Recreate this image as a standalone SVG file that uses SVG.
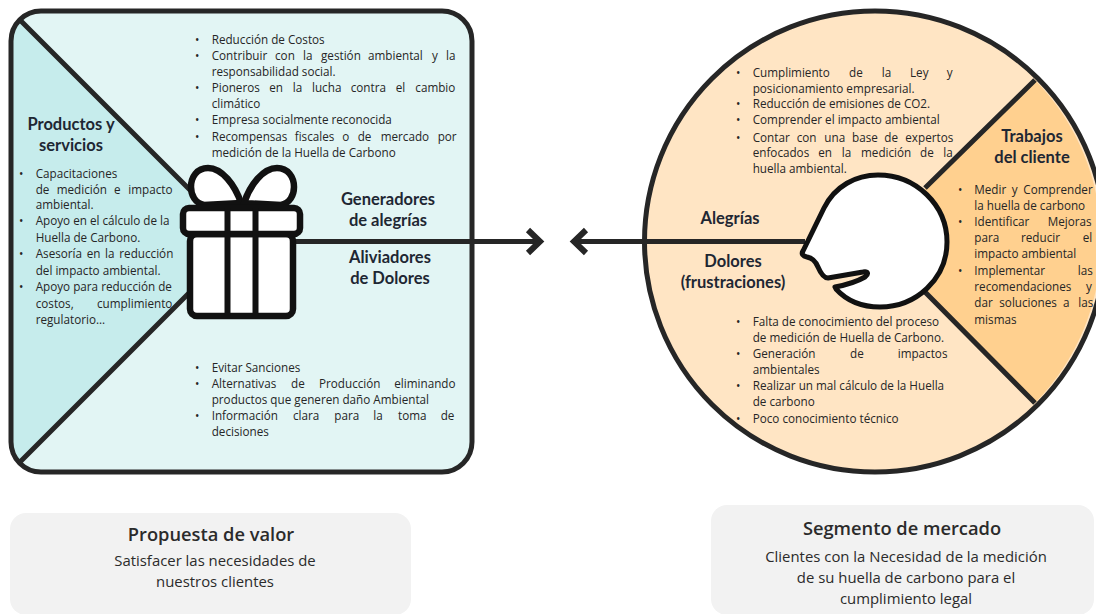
<svg xmlns="http://www.w3.org/2000/svg" width="1096" height="614" viewBox="0 0 1096 614">
<style>
text{font-family:"Open Sans","Noto Sans","Liberation Sans",sans-serif}
.t{font-size:11.7px;fill:#262626}
.h{font-family:Lato,"Open Sans",sans-serif;font-weight:700;font-size:16.500px;fill:#1e2733;text-anchor:middle}
.bt{font-size:18.300px;font-weight:600;fill:#2b2b2b;text-anchor:middle}
.bd{font-size:14.900px;fill:#2b2b2b;text-anchor:middle}
.ln{fill:none;stroke:#262626;stroke-width:5}
.hd{fill:none;stroke:#262626;stroke-width:6}
.gift{fill:#fff;stroke:#111;stroke-width:6.500;stroke-linejoin:round}
.box{fill:#f2f2f2}
</style>
<rect width="1096" height="614" fill="#fff"/>
<g id="value-panel">
<rect x="11" y="11" width="461" height="461" rx="30" fill="#e2f5f4"/>
<path d="M20 20L190 190V292L20 462Q11 455 11 442V40Q11 28 20 20Z" fill="#c6ecec"/>
<rect x="11" y="11" width="461" height="461" rx="30" class="ln"/>
<path d="M20 20L190 190M20 462L190 292" class="ln"/>
</g>
<g id="market-circle">
<circle cx="875" cy="241.5" r="230.5" fill="#ffe5c4"/>
<path d="M925 188L1035 80A230.500 230.500 0 0 1 1035 403L925 292Z" fill="#ffd08f"/>
<circle cx="875" cy="241.500" r="230.500" class="ln"/>
<path d="M925 188L1035 80M925 292L1035 403" class="ln"/>
</g>
<g id="connectors">
<path d="M295 241.500H540M805 241.500H576" class="ln"/>
<path d="M528 230L540 241.500L528 253M586 230L574 241.500L586 253" class="hd"/>
</g>
<g id="gift">
<path d="M241 203C235 185 222 168 208 168C197 168 191 177 191 187C191 195 195 203 204 205Z" class="gift"/>
<path d="M244 203C250 185 263 168 277 168C288 168 294 177 294 187C294 195 290 203 281 205Z" class="gift"/>
<rect x="190" y="234" width="103" height="82" rx="7" class="gift"/>
<rect x="183" y="208" width="117" height="26" rx="6" class="gift"/>
<path d="M227.500 208V316M255.500 208V316" fill="none" stroke="#111" stroke-width="6"/>
</g>
<g id="head">
<path d="M803 251L824 208C835 186 856 175 878 175C916 175 947 205 947 242C947 279 916 307 880 307C860 307 846 300 836 289L835 287C846 285 858 281 865 277C869 274 868 271 863 272L828 278C824 278 821 274 818 267C815 260 812 258 807 257C803 256 801 254 803 251Z" fill="#fff" stroke="#111" stroke-width="5" stroke-linejoin="round"/>
</g>
<g id="productos-servicios">
<text class="h" x="71" y="130">Productos y</text><text class="h" x="71" y="151">servicios</text>
<g class="t">
<text x="19" y="178">•</text><text x="35.700" y="178">Capacitaciones</text>
<text y="194"><tspan x="35.700">de</tspan><tspan x="56.700">medición</tspan><tspan x="114">e</tspan><tspan x="128.300">impacto</tspan></text>
<text x="35.700" y="209">ambiental.</text>
<text x="19" y="225">•</text><text x="35.700" y="225">Apoyo en el cálculo de la</text>
<text x="35.700" y="242">Huella de Carbono.</text>
<text x="19" y="258">•</text><text y="258"><tspan x="35.700">Asesoría</tspan><tspan x="86.700">en</tspan><tspan x="105">la</tspan><tspan x="119.300">reducción</tspan></text>
<text x="35.700" y="275">del impacto ambiental.</text>
<text x="19" y="291">•</text><text x="35.700" y="291">Apoyo para reducción de</text>
<text y="308"><tspan x="35.700">costos,</tspan><tspan x="97">cumplimiento</tspan></text>
<text x="35.700" y="324">regulatorio...</text>
</g>
</g>
<g id="generadores">
<text class="h" x="388" y="205">Generadores</text><text class="h" x="388" y="226">de alegrías</text>
<g class="t">
<text x="195" y="44">•</text><text x="211.700" y="44">Reducción de Costos</text>
<text x="195" y="60">•</text><text y="60"><tspan x="211.700">Contribuir</tspan><tspan x="275">con</tspan><tspan x="303">la</tspan><tspan x="321">gestión</tspan><tspan x="368">ambiental</tspan><tspan x="432">y</tspan><tspan x="446">la</tspan></text>
<text x="211.700" y="76">responsabilidad social.</text>
<text x="195" y="92">•</text><text y="92"><tspan x="211.700">Pioneros</tspan><tspan x="269.300">en</tspan><tspan x="292.700">la</tspan><tspan x="312">lucha</tspan><tspan x="350.700">contra</tspan><tspan x="395.700">el</tspan><tspan x="415.300">cambio</tspan></text>
<text x="211.700" y="108">climático</text>
<text x="195" y="124">•</text><text x="211.700" y="124">Empresa socialmente reconocida</text>
<text x="195" y="141">•</text><text y="141"><tspan x="211.700">Recompensas</tspan><tspan x="294.700">fiscales</tspan><tspan x="342.300">o</tspan><tspan x="357.700">de</tspan><tspan x="380.700">mercado</tspan><tspan x="437.700">por</tspan></text>
<text x="211.700" y="157">medición de la Huella de Carbono</text>
</g>
</g>
<g id="aliviadores">
<text class="h" x="390" y="263">Aliviadores</text><text class="h" x="390" y="284">de Dolores</text>
<g class="t">
<text x="195" y="372">•</text><text x="211.700" y="372">Evitar Sanciones</text>
<text x="195" y="388">•</text><text y="388"><tspan x="211.700">Alternativas</tspan><tspan x="291">de</tspan><tspan x="319">Producción</tspan><tspan x="394.300">eliminando</tspan></text>
<text x="211.700" y="404">productos que generen daño Ambiental</text>
<text x="195" y="420">•</text><text y="420"><tspan x="211.700">Información</tspan><tspan x="293">clara</tspan><tspan x="334.300">para</tspan><tspan x="373.300">la</tspan><tspan x="398">toma</tspan><tspan x="440.700">de</tspan></text>
<text x="211.700" y="436">decisiones</text>
</g>
</g>
<g id="alegrias">
<text class="h" x="730" y="224">Alegrías</text>
<g class="t">
<text x="736" y="77">•</text><text y="77"><tspan x="752.700">Cumplimiento</tspan><tspan x="849">de</tspan><tspan x="881.700">la</tspan><tspan x="910">Ley</tspan><tspan x="946.700">y</tspan></text>
<text x="752.700" y="93">posicionamiento empresarial.</text>
<text x="736" y="108">•</text><text x="752.700" y="108">Reducción de emisiones de CO2.</text>
<text x="736" y="124">•</text><text x="752.700" y="124">Comprender el impacto ambiental</text>
<text x="736" y="142">•</text><text y="142"><tspan x="752.700">Contar</tspan><tspan x="796.700">con</tspan><tspan x="824.300">una</tspan><tspan x="852">base</tspan><tspan x="884.300">de</tspan><tspan x="905.300">expertos</tspan></text>
<text y="157"><tspan x="752.700">enfocados</tspan><tspan x="818.300">en</tspan><tspan x="841.700">la</tspan><tspan x="861">medición</tspan><tspan x="920">de</tspan><tspan x="943.300">la</tspan></text>
<text x="752.700" y="173">huella ambiental.</text>
</g>
</g>
<g id="dolores">
<text class="h" x="733" y="267">Dolores</text><text class="h" x="733" y="288">(frustraciones)</text>
<g class="t">
<text x="736" y="326">•</text><text x="752.700" y="326">Falta de conocimiento del proceso</text>
<text x="752.700" y="342">de medición de Huella de Carbono.</text>
<text x="736" y="358">•</text><text y="358"><tspan x="752.700">Generación</tspan><tspan x="850">de</tspan><tspan x="897.700">impactos</tspan></text>
<text x="752.700" y="374">ambientales</text>
<text x="736" y="390">•</text><text x="752.700" y="390">Realizar un mal cálculo de la Huella</text>
<text x="752.700" y="406">de carbono</text>
<text x="736" y="423">•</text><text x="752.700" y="423">Poco conocimiento técnico</text>
</g>
</g>
<g id="trabajos">
<text class="h" x="1032" y="142">Trabajos</text><text class="h" x="1032" y="163">del cliente</text>
<g class="t">
<text x="958" y="194">•</text><text y="194"><tspan x="974.300">Medir</tspan><tspan x="1011.700">y</tspan><tspan x="1023.300">Comprender</tspan></text>
<text x="974.300" y="210">la huella de carbono</text>
<text x="958" y="226">•</text><text y="226"><tspan x="974.300">Identificar</tspan><tspan x="1047.700">Mejoras</tspan></text>
<text y="242"><tspan x="974.300">para</tspan><tspan x="1021">reducir</tspan><tspan x="1082.700">el</tspan></text>
<text x="974.300" y="258">impacto ambiental</text>
<text x="958" y="275">•</text><text y="275"><tspan x="974.300">Implementar</tspan><tspan x="1077.700">las</tspan></text>
<text y="291"><tspan x="974.300">recomendaciones</tspan><tspan x="1086">y</tspan></text>
<text y="307"><tspan x="974.300">dar</tspan><tspan x="999.300">soluciones</tspan><tspan x="1063">a</tspan><tspan x="1078.300">las</tspan></text>
<text x="974.300" y="324">mismas</text>
</g>
</g>
<g id="propuesta-de-valor">
<rect class="box" x="10" y="513" width="401" height="102" rx="16"/>
<text class="bt" x="211" y="541">Propuesta de valor</text>
<text class="bd" x="215" y="566">Satisfacer las necesidades de</text>
<text class="bd" x="215" y="587">nuestros clientes</text>
</g>
<g id="segmento-de-mercado">
<rect class="box" x="711" y="505" width="383" height="110" rx="16"/>
<text class="bt" x="902" y="535">Segmento de mercado</text>
<text class="bd" x="906" y="562">Clientes con la Necesidad de la medición</text>
<text class="bd" x="906" y="583">de su huella de carbono para el</text>
<text class="bd" x="906" y="604">cumplimiento legal</text>
</g>
</svg>
